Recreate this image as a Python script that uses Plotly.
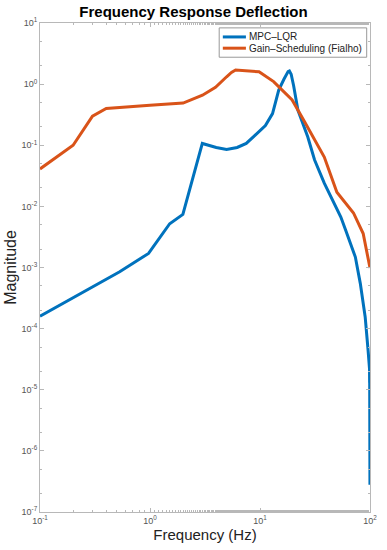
import plotly.graph_objects as go

# MPC-LQR (blue)
mpc_freq = [0.1, 0.53, 0.97, 1.51, 1.99, 2.99, 4.0, 4.97, 6.2, 7.5, 9.0, 11.2,
            13.0, 14.8, 16.5, 18.0, 18.5, 19.2, 20.2, 22.1, 27.2, 31.3, 38.4,
            54.3, 60.0, 73.6, 81.6, 90.4, 96.0, 98.0, 99.0, 99.2, 99.3, 99.4,
            99.5, 99.6, 99.7, 99.8, 99.9]
mpc_mag = [1.6e-4, 8.5e-4, 1.7e-3, 5.2e-3, 7.4e-3, 0.107, 0.092, 0.085, 0.092,
           0.107, 0.145, 0.21, 0.33, 0.8, 1.2, 1.6, 1.64, 1.45, 0.95, 0.377,
           0.136, 0.058, 0.024, 6.7e-3, 4.1e-3, 1.48e-3, 5.5e-4, 1.55e-4,
           4.5e-5, 2.8e-5, 2.2e-5, 1.3e-5, 2.4e-5, 1.0e-5, 2.0e-5, 1.0e-5,
           8e-6, 2.5e-6, 2.8e-7]

# Gain-Scheduling (Fialho) (orange)
gs_freq = [0.1, 0.2, 0.3, 0.4, 1.0, 2.0, 3.0, 3.94, 4.97, 5.5, 6.0, 9.8, 13.3,
           16.9, 19.6, 25.5, 38.4, 50.0, 70.8, 86.7, 96.0, 100.0]
gs_mag = [0.041, 0.1, 0.30, 0.40, 0.45, 0.49, 0.66, 0.89, 1.32, 1.55, 1.7,
          1.59, 1.1, 0.71, 0.55, 0.24, 0.064, 0.017, 0.0078, 0.0036, 0.0014,
          0.00098]

x_exponents = [-1, 0, 1, 2]
y_exponents = [-7, -6, -5, -4, -3, -2, -1, 0, 1]

series_names = ["MPC\u2013LQR", "Gain\u2013Scheduling (Fialho)"]
series_colors = ["#0072BD", "#D95319"]

font_family = "Liberation Sans, Arial, sans-serif"
axis_grey = "#b8b8b8"
tick_grey = "#555555"

fig = go.Figure()
fig.add_trace(go.Scatter(x=mpc_freq, y=mpc_mag, mode="lines", name=series_names[0],
                         line=dict(color=series_colors[0], width=3), showlegend=False))
fig.add_trace(go.Scatter(x=gs_freq, y=gs_mag, mode="lines", name=series_names[1],
                         line=dict(color=series_colors[1], width=3), showlegend=False))

common = dict(
    type="log", showgrid=False, zeroline=False, showline=True, linecolor=axis_grey,
    linewidth=1, mirror="allticks", ticks="inside", ticklen=4, tickcolor=axis_grey,
    tickfont=dict(size=9, color=tick_grey, family=font_family),
    minor=dict(ticks="inside", ticklen=2, tickcolor=axis_grey, showgrid=False),
)

fig.update_xaxes(range=[-1, 2],
                 tickvals=[10.0 ** e for e in x_exponents],
                 ticktext=[f"10<sup>{e}</sup>" for e in x_exponents],
                 title=dict(text="Frequency (Hz)", font=dict(size=15, color="#222"),
                            standoff=2),
                 **common)
fig.update_yaxes(range=[-7, 1],
                 tickvals=[10.0 ** e for e in y_exponents],
                 ticktext=[f"10<sup>{e}</sup>" for e in y_exponents],
                 title=dict(text="Magnitude", font=dict(size=16, color="#222"),
                            standoff=0),
                 **common)

# Legend drawn as a compact MATLAB-style box
lx0, lx1, ly0, ly1 = 0.543, 0.990, 0.930, 0.990
fig.add_shape(type="rect", xref="paper", yref="paper", x0=lx0, x1=lx1, y0=ly0, y1=ly1,
              line=dict(color="#999999", width=1), fillcolor="white", layer="above")
row_y = [0.9715, 0.9485]
for name, color, ry in zip(series_names, series_colors, row_y):
    fig.add_shape(type="line", xref="paper", yref="paper", x0=0.554, x1=0.624,
                  y0=ry, y1=ry, line=dict(color=color, width=3), layer="above")
    fig.add_annotation(xref="paper", yref="paper", x=0.628, y=ry, text=name,
                       showarrow=False, xanchor="left", yanchor="middle",
                       font=dict(size=10, color="#222", family=font_family))

fig.update_layout(
    width=387, height=550,
    margin=dict(l=38, r=10, t=23, b=38),
    paper_bgcolor="white", plot_bgcolor="white",
    font=dict(family=font_family),
    title=dict(text="<b>Frequency Response Deflection</b>", x=0.5, xanchor="center",
               y=0.978, yanchor="middle", font=dict(size=15, color="black")),
    showlegend=False,
)

fig.write_html("out.html", config={"displayModeBar": False},
               post_script="document.body.style.margin='0';")
